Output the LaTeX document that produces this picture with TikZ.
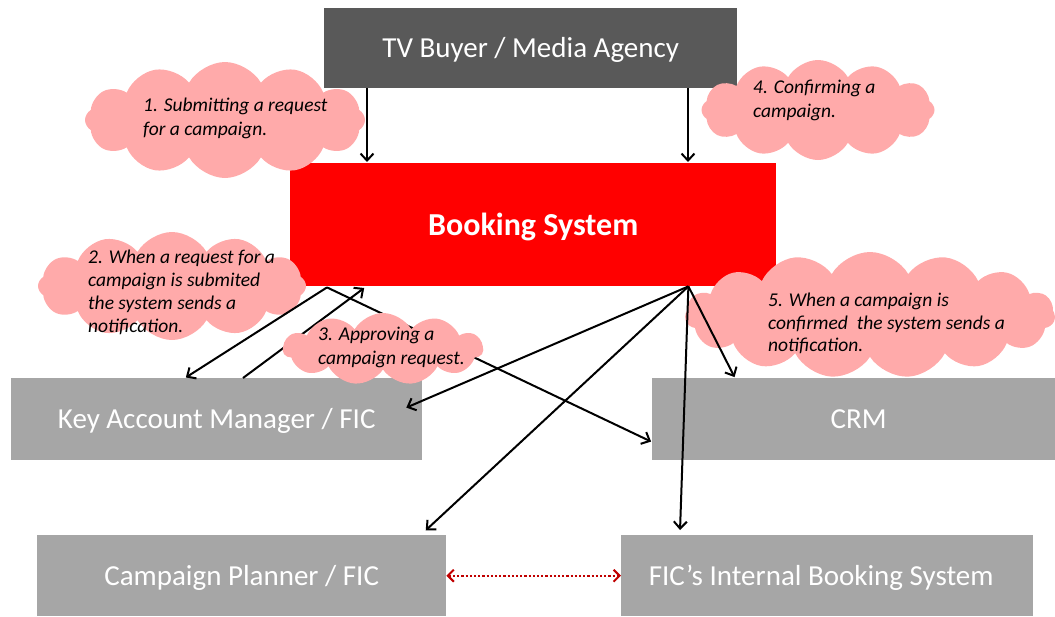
\documentclass[tikz,border=0pt]{standalone}
\usepackage{fontspec}
\setmainfont{Carlito}
\usetikzlibrary{shapes.symbols,arrows.meta,calc}
\definecolor{darkbox}{HTML}{595959}
\definecolor{greybox}{HTML}{A6A6A6}
\definecolor{cloudpink}{HTML}{FFAAAA}
\definecolor{dotred}{HTML}{C00000}
\begin{document}
\begin{tikzpicture}[x=1pt,y=-1pt,
 box/.style={anchor=north west, inner sep=0pt, text=white, text height=24pt, text depth=5pt, font=\fontsize{29}{34}\selectfont},
 cloudnode/.style={cloud, cloud puffs=12, cloud puff arc=120, fill=cloudpink, draw=none, inner sep=0pt},
 note/.style={anchor=north west, inner sep=0pt, align=left, font=\itshape\fontsize{19.5}{24}\selectfont},
 conn/.style={line width=2pt, -{Straight Barb[length=7pt,width=13pt,line width=2pt]}, shorten >=1pt},
 dots/.style={dotred, line width=2.2pt, dotted, {Straight Barb[length=6pt,width=12pt,line width=2pt]}-{Straight Barb[length=6pt,width=12pt,line width=2pt]}},
]
\useasboundingbox (0,0) rectangle (1055,616);

% boxes
\node[box, fill=darkbox, minimum width=413pt, minimum height=80pt] (tv) at (324,8) {TV Buyer / Media Agency};
\node[box, fill=red, minimum width=486pt, minimum height=123pt, text height=27pt, text depth=5pt, font=\bfseries\fontsize{32}{36}\selectfont] (book) at (290,163) {Booking System};
\node[box, fill=greybox, minimum width=411pt, minimum height=82pt] (kam) at (11,378) {Key Account Manager / FIC};
\node[box, fill=greybox, minimum width=403pt, minimum height=82pt] (crm) at (652,378) {\hspace*{10pt}CRM};
\node[box, fill=greybox, minimum width=409pt, minimum height=81pt] (cp) at (37,535) {Campaign Planner / FIC};
\node[box, fill=greybox, minimum width=412pt, minimum height=81pt] (fic) at (621,535) {FIC's Internal Booking System\hspace*{12pt}};

% clouds under the arrows
\node[cloudnode, minimum width=280pt, minimum height=116pt] (c1) at (225,120) {};
\node[cloudnode, minimum width=233pt, minimum height=100pt] (c4) at (818,110) {};
\node[cloudnode, minimum width=268pt, minimum height=108pt] (c2) at (172,286) {};
\node[cloudnode, minimum width=370pt, minimum height=126pt, cloud puffs=15] (c5) at (870,315) {};

\node[note] (t1) at (143,98) {1. Submitting a request\\for a campaign.};
\node[note] (t4) at (753,80) {4. Confirming a\\campaign.};
\node[note, font=\itshape\fontsize{19.5}{23}\selectfont] (t2) at (88,250) {2. When a request for a\\campaign is submited\\the system sends a\\notification.};
\node[note, font=\itshape\fontsize{19.5}{22.5}\selectfont] (t5) at (768,293) {5. When a campaign is\\confirmed~ the system sends a\\notification.};

% connection points
\coordinate (tvA) at ($(tv.south west)+(43,0)$);
\coordinate (tvB) at ($(tv.south west)+(364,0)$);
\coordinate (bkA) at ($(book.north west)+(77,0)$);
\coordinate (bkB) at ($(book.north west)+(398,0)$);
\coordinate (b1) at ($(book.south west)+(37,1)$);
\coordinate (b3) at ($(book.south west)+(75,1)$);
\coordinate (b2) at ($(book.south east)+(-88,0)$);
\coordinate (kA) at ($(kam.north west)+(174,0)$);
\coordinate (kB) at ($(kam.north west)+(232,0)$);
\coordinate (kC) at ($(kam.north east)+(-17,30)$);
\coordinate (crA) at ($(crm.north west)+(0,64)$);
\coordinate (crB) at ($(crm.north west)+(83,0)$);
\coordinate (cpA) at ($(cp.north west)+(388,-4)$);
\coordinate (fiA) at ($(fic.north west)+(59,-4)$);

% arrows
\draw[conn] (tvA) -- (bkA);
\draw[conn] (tvB) -- (bkB);
\draw[conn] (b1) -- (kA);
\draw[conn] (kB) -- (b3);
\draw[conn] (b1) -- (crA);
\draw[conn] (b2) -- (kC);
\draw[conn] (b2) -- (cpA);
\draw[conn] (b2) -- (fiA);
\draw[conn] (b2) -- (crB);
\draw[dots] (cp.east) -- (fic.west);

% cloud 3 on top
\node[cloudnode, minimum width=200pt, minimum height=72pt, cloud puffs=11] (c3) at (383,349) {};
\node[note] (t3) at (318,327) {3. Approving a\\campaign request.};
\end{tikzpicture}
\end{document}
